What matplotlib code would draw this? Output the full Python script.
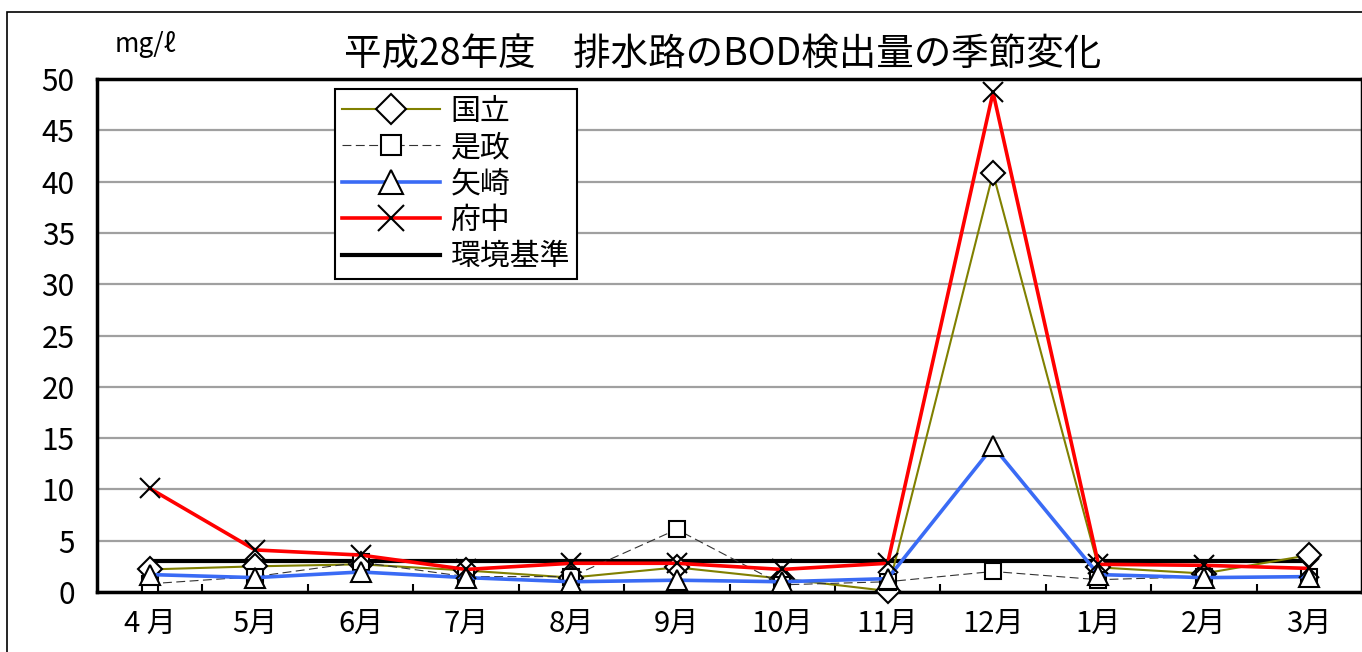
import matplotlib
matplotlib.use("Agg")
import matplotlib.pyplot as plt
from matplotlib.patches import Rectangle

plt.rcParams['font.family'] = ['Noto Sans CJK JP', 'DejaVu Sans']

months = ["4 月", "5月", "6月", "7月", "8月", "9月", "10月", "11月", "12月", "1月", "2月", "3月"]
kunitachi = [2.2, 2.5, 2.7, 2.1, 1.4, 2.4, 1.3, 0.1, 40.8, 2.4, 1.8, 3.6]
koremasa = [0.8, 1.5, 2.9, 1.5, 1.5, 6.1, 0.7, 1.0, 2.0, 1.2, 1.5, 1.5]
yazaki = [1.7, 1.4, 1.95, 1.4, 1.0, 1.15, 1.0, 1.3, 14.2, 1.7, 1.4, 1.5]
fuchu = [10.1, 4.1, 3.6, 2.2, 2.8, 2.8, 2.2, 2.8, 48.7, 2.7, 2.6, 2.3]
standard = [3] * 12
yticks = [0, 5, 10, 15, 20, 25, 30, 35, 40, 45, 50]

W, H = 1362, 652
fig = plt.figure(figsize=(W / 100, H / 100), dpi=100)
ax = fig.add_axes([97 / W, 1 - 592 / H, (1362 - 97) / W, (592 - 79) / H])

x = list(range(len(months)))
ax.plot(x, kunitachi, color='#808000', lw=1.5, marker='D', ms=12, mfc='white',
        mec='black', mew=1.5, label='国立', zorder=4, clip_on=False)
ax.plot(x, koremasa, color='#333333', lw=0.8, ls=(0, (8, 4)), marker='s', ms=12,
        mfc='white', mec='black', mew=1.5, label='是政', zorder=4, clip_on=False)
ax.plot(x, yazaki, color='#3A6BF5', lw=2.6, marker='^', ms=14, mfc='white',
        mec='black', mew=1.5, label='矢崎', zorder=4, clip_on=False)
ax.plot(x, fuchu, color='#FF0000', lw=2.6, marker='x', ms=15, mec='black', mew=1.5,
        label='府中', zorder=4, clip_on=False)
ax.plot(x, standard, color='black', lw=3, label='環境基準', zorder=3)

ax.set_xlim(-0.5, len(months) - 0.5)
ax.set_ylim(0, 50)
ax.set_yticks(yticks)
ax.set_yticklabels([str(v) for v in yticks], fontsize=21.5)
ax.set_xticks(x)
ax.set_xticklabels(months, fontsize=21)
ax.set_xticks([i + 0.5 for i in x[:-1]], minor=True)
ax.tick_params(axis='x', which='major', length=0, pad=12)
ax.tick_params(axis='x', which='minor', direction='in', length=6, width=1.5)
ax.tick_params(axis='y', length=0, pad=16)
ax.yaxis.grid(True, color='#a0a0a0', lw=1.6, zorder=0)
ax.set_axisbelow(True)
for s in ['left', 'bottom', 'top', 'right']:
    ax.spines[s].set_linewidth(2.5)
    ax.spines[s].set_color('black')

leg = ax.legend(loc='upper left', bbox_to_anchor=((335 - 97) / (1362 - 97), (592 - 89) / 513),
                borderaxespad=0, fontsize=21.5, frameon=True, fancybox=False,
                edgecolor='black', framealpha=1, handlelength=3.3, labelspacing=0.18,
                handletextpad=0.35, borderpad=0.22, markerscale=1.25)
leg.get_frame().set_linewidth(1.5)
leg.set_zorder(10)

fig.text(723 / W, 1 - 55 / H, '平成28年度　排水路のBOD検出量の季節変化', fontsize=27,
         ha='center', va='center')
fig.text(115 / W, 1 - 45 / H, 'mg/ℓ', fontsize=19, ha='left', va='center')

fig.patches.append(Rectangle((7 / W, -0.1), 1.2, 1 - 12 / H + 0.1, transform=fig.transFigure,
                             fill=False, edgecolor='black', lw=1.2))

fig.savefig('out.png', dpi=100)
